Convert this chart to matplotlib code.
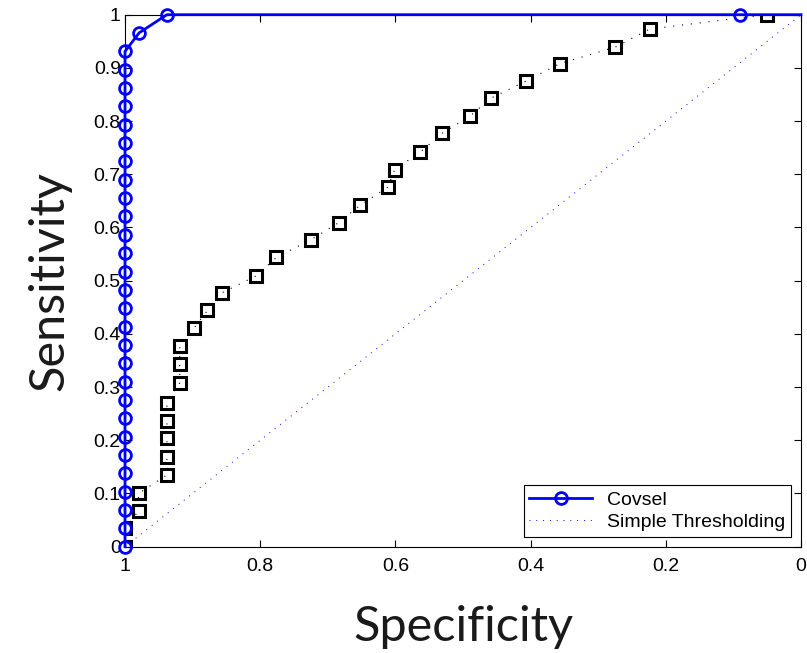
import matplotlib
matplotlib.use("Agg")
import matplotlib.pyplot as plt
import numpy as np

plt.rcParams.update({'font.size': 14, 'font.family': ['Liberation Sans', 'DejaVu Sans']})

# Covsel curve (specificity, sensitivity)
covsel_spec = [1.0] * 28 + [0.979, 0.938, 0.091, 0.0]
covsel_sens = [k / 29 for k in range(28)] + [0.966, 1.0, 1.0, 1.0]

# second method (black squares)
sq_spec = [1.0, 1.0, 0.980, 0.980, 0.938, 0.938, 0.938, 0.938, 0.938,
           0.919, 0.919, 0.919, 0.898, 0.878, 0.857, 0.806, 0.776, 0.725,
           0.684, 0.652, 0.611, 0.601, 0.563, 0.531, 0.489, 0.459, 0.407,
           0.357, 0.275, 0.224, 0.051]
sq_sens = [0.0, 0.035, 0.067, 0.100, 0.135, 0.169, 0.204, 0.237, 0.271,
           0.308, 0.343, 0.377, 0.411, 0.444, 0.477, 0.509, 0.544, 0.577,
           0.609, 0.642, 0.676, 0.709, 0.742, 0.777, 0.810, 0.843, 0.875,
           0.908, 0.939, 0.973, 1.0]

# chance diagonal
diag_spec = [1.0, 0.0]
diag_sens = [0.0, 1.0]

x_ticks = [1, 0.8, 0.6, 0.4, 0.2, 0]
y_ticks = [0, 0.1, 0.2, 0.3, 0.4, 0.5, 0.6, 0.7, 0.8, 0.9, 1]

fig = plt.figure(figsize=(8.07, 6.53), dpi=100)
ax = fig.add_axes([0.1549, 0.1628, 0.8377, 0.8147])

ax.plot(sq_spec, sq_sens, color='k', linestyle=(0, (1, 7)), linewidth=0.8,
        marker='s', markersize=8, markerfacecolor='none', markeredgewidth=2.2,
        zorder=2)
ax.plot(covsel_spec, covsel_sens, 'b-', linewidth=2, marker='o', markersize=8.5,
        markerfacecolor='none', markeredgewidth=2, markevery=list(range(31)),
        label='Covsel', zorder=3, clip_on=False)
ax.plot(diag_spec, diag_sens, color='b', linestyle=(0, (1, 6)), linewidth=0.7,
        label='Simple Thresholding', zorder=1)

ax.set_xlim(1, 0)
ax.set_ylim(0, 1)
ax.set_xticks(x_ticks)
ax.set_yticks(y_ticks)
ax.set_xticklabels(['%g' % v for v in x_ticks])
ax.set_yticklabels(['%g' % v for v in y_ticks])
ax.tick_params(direction='in', top=True, right=True, length=5, width=0.8)
ax.tick_params(axis='x', pad=8)
ax.tick_params(axis='y', pad=3)
for s in ax.spines.values():
    s.set_linewidth(0.8)

ax.set_xlabel('Specificity', fontfamily='Lato', fontsize=35, labelpad=22, color='#1a1a1a')
ax.set_ylabel('Sensitivity', fontfamily='Lato', fontsize=35, labelpad=16, color='#1a1a1a')

leg = ax.legend(loc='lower right', fancybox=False, edgecolor='k', framealpha=1,
                borderaxespad=0.5, handlelength=3.2, borderpad=0.3, labelspacing=0.25)
leg.get_frame().set_linewidth(0.8)

fig.savefig('out.png', dpi=100)
